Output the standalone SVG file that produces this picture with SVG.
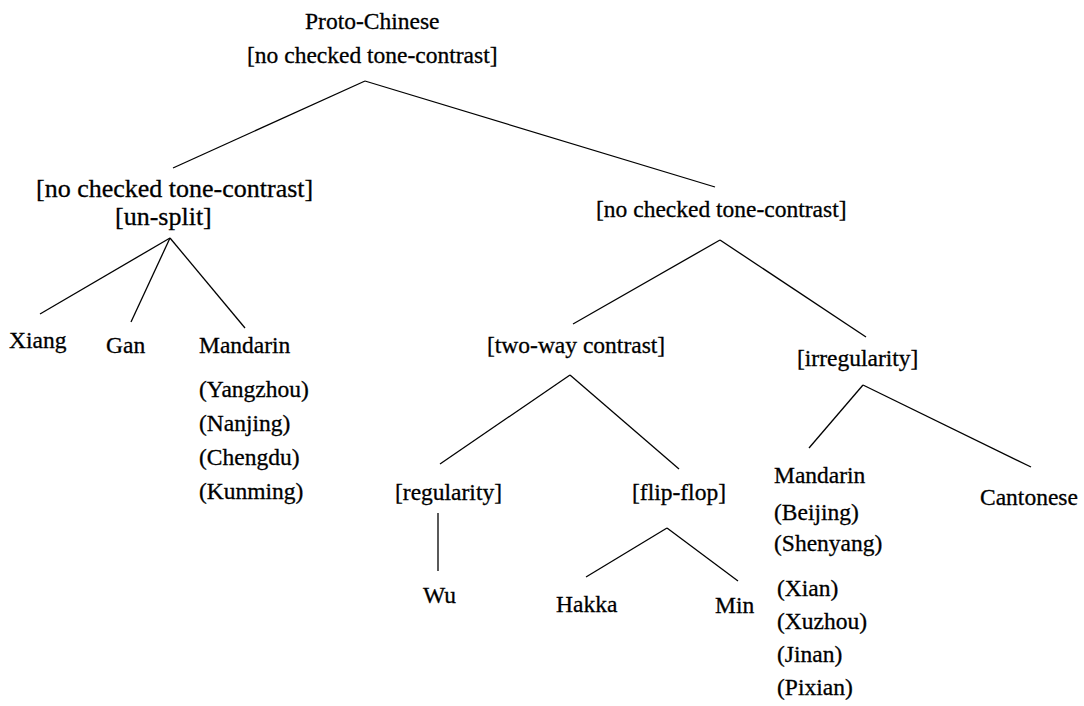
<svg xmlns="http://www.w3.org/2000/svg" width="1084" height="706" viewBox="0 0 1084 706">
<style>
text{font-family:'Liberation Serif','Times New Roman',serif;font-size:23.5px;fill:#000;stroke:#000;stroke-width:0.3}
.big{font-size:26px}
line{stroke:#000;stroke-width:1.3;fill:none}
</style>
<rect width="1084" height="706" fill="#fff"/>
<g id="connectors">
<line x1="365" y1="81" x2="173" y2="168"/>
<line x1="365" y1="81" x2="715" y2="187"/>
<line x1="170" y1="238" x2="40" y2="314"/>
<line x1="170" y1="238" x2="131" y2="322"/>
<line x1="170" y1="238" x2="245" y2="328"/>
<line x1="720" y1="240" x2="573" y2="324"/>
<line x1="720" y1="240" x2="866" y2="337"/>
<line x1="570" y1="375" x2="440" y2="464"/>
<line x1="570" y1="375" x2="679" y2="469"/>
<line x1="438" y1="513" x2="438" y2="571"/>
<line x1="667" y1="528" x2="586" y2="577"/>
<line x1="667" y1="528" x2="738" y2="581"/>
<line x1="863" y1="385" x2="809" y2="448"/>
<line x1="863" y1="385" x2="1031" y2="467"/>
</g>
<g id="proto-chinese">
<text x="305" y="29">Proto-Chinese</text>
<text x="247" y="63">[no checked tone-contrast]</text>
</g>
<g id="left-node">
<text class="big" x="36" y="197">[no checked tone-contrast]</text>
<text class="big" x="115" y="225">[un-split]</text>
</g>
<g id="right-node">
<text x="596" y="217">[no checked tone-contrast]</text>
</g>
<g id="xiang"><text x="9" y="348">Xiang</text></g>
<g id="gan"><text x="106" y="353">Gan</text></g>
<g id="mandarin-left">
<text x="199" y="353">Mandarin</text>
<text x="199" y="397">(Yangzhou)</text>
<text x="199" y="431">(Nanjing)</text>
<text x="199" y="465">(Chengdu)</text>
<text x="199" y="499">(Kunming)</text>
</g>
<g id="two-way"><text x="487" y="353">[two-way contrast]</text></g>
<g id="irregularity"><text x="797" y="366">[irregularity]</text></g>
<g id="regularity"><text x="395" y="500">[regularity]</text></g>
<g id="flip-flop"><text x="632" y="500">[flip-flop]</text></g>
<g id="wu"><text x="423" y="603">Wu</text></g>
<g id="hakka"><text x="556" y="612">Hakka</text></g>
<g id="min"><text x="715" y="613">Min</text></g>
<g id="mandarin-right">
<text x="774" y="483">Mandarin</text>
<text x="774" y="520">(Beijing)</text>
<text x="774" y="551">(Shenyang)</text>
<text x="777" y="596">(Xian)</text>
<text x="777" y="629">(Xuzhou)</text>
<text x="777" y="662">(Jinan)</text>
<text x="777" y="695">(Pixian)</text>
</g>
<g id="cantonese"><text x="980" y="505">Cantonese</text></g>
</svg>
